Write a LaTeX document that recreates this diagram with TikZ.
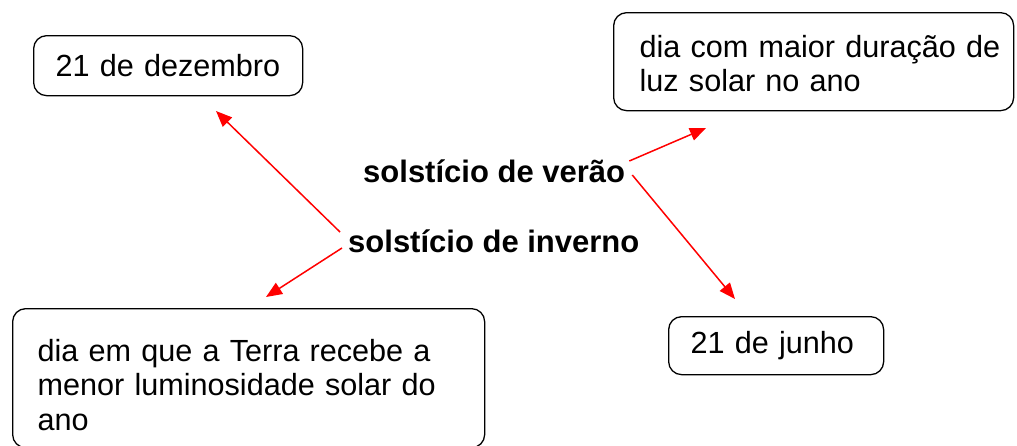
\documentclass[tikz,border=0pt]{standalone}
\usepackage{fontspec}
\setmainfont{Liberation Sans}
\usetikzlibrary{arrows.meta}
\begin{document}
\begin{tikzpicture}[x=1pt,y=-1pt,
  box/.style={draw=black, line width=1.3pt, rounded corners=13pt, anchor=north west,
    align=left, inner ysep=0pt, font=\fontsize{30.6}{34.5}\selectfont},
  lbl/.style={anchor=base west, inner sep=0pt, font=\fontsize{31}{34.5}\selectfont\bfseries},
  arr/.style={draw=red, line width=1.5pt, -{Triangle[length=16pt,width=13pt]}}]
\useasboundingbox (0,0) rectangle (1017,445);
\node[box, inner xsep=22pt, text width=225pt, minimum height=60pt] (dez) at (33,35) {\mbox{21 de dezembro}};
\node[box, inner xsep=26pt, text width=348pt, minimum height=98pt] (maior) at (613,12) {\rule{0pt}{26pt}\mbox{dia com maior duração de}\\\mbox{luz solar no ano}};
\node[box, inner xsep=22pt, text width=171pt, minimum height=58pt] (jun) at (668,316) {\mbox{21 de junho}};
\node[box, inner xsep=25pt, text width=422pt, minimum height=139pt] (menor) at (12,308) {\rule{0pt}{35pt}\mbox{dia em que a Terra recebe a}\\\mbox{menor luminosidade solar do}\\\mbox{ano}};
\node[lbl] (ver) at (363,182) {solstício de verão};
\node[lbl] (inv) at (348,252) {solstício de inverno};
\coordinate (t1) at (216,111);
\coordinate (t2) at (266,297);
\coordinate (t3) at (706,128);
\coordinate (t4) at (735,299);
\draw[arr] ([shift={(-8,-20)}]inv.base west) -- (t1);
\draw[arr] ([shift={(-6,-4)}]inv.base west) -- (t2);
\draw[arr] ([shift={(4,-21)}]ver.base east) -- (t3);
\draw[arr] ([shift={(7,-7)}]ver.base east) -- (t4);
\end{tikzpicture}
\end{document}
